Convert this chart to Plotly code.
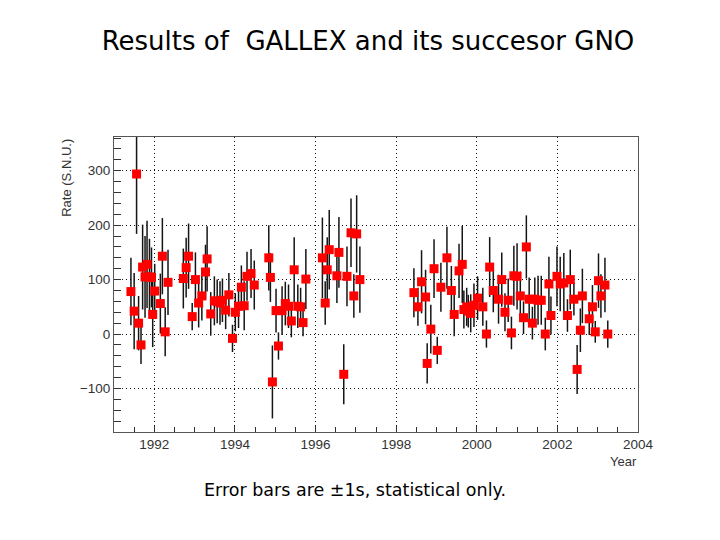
import plotly.graph_objects as go

# GALLEX (1991-1997) and GNO (1998-2003) run results, rate in SNU
year = [
    1991.42, 1991.50, 1991.56, 1991.61, 1991.67, 1991.71, 1991.77, 1991.82, 1991.88, 1991.93,
    1991.96, 1992.01, 1992.15, 1992.20, 1992.27, 1992.34, 1992.72, 1992.79, 1992.85, 1992.94,
    1993.02, 1993.10, 1993.18, 1993.27, 1993.31, 1993.40, 1993.49, 1993.56, 1993.63, 1993.69,
    1993.77, 1993.85, 1993.94, 1994.01, 1994.09, 1994.16, 1994.23, 1994.30, 1994.40, 1994.48,
    1994.84, 1994.88, 1994.93, 1995.02, 1995.08, 1995.17, 1995.25, 1995.33, 1995.40, 1995.47,
    1995.56, 1995.63, 1995.69, 1995.76, 1996.17, 1996.24, 1996.29, 1996.34, 1996.53, 1996.58,
    1996.70, 1996.78, 1996.88, 1996.95, 1997.02, 1997.10,
    1998.44, 1998.54, 1998.63, 1998.73, 1998.77, 1998.86, 1998.94, 1999.02, 1999.11, 1999.26,
    1999.37, 1999.44, 1999.56, 1999.64, 1999.68, 1999.75, 1999.79, 1999.85, 1999.93, 2000.02,
    2000.15, 2000.24, 2000.32, 2000.41, 2000.54, 2000.62, 2000.70, 2000.78, 2000.86, 2000.92,
    2001.00, 2001.08, 2001.16, 2001.23, 2001.30, 2001.38, 2001.44, 2001.52, 2001.60, 2001.70,
    2001.79, 2001.84, 2001.99, 2002.07, 2002.16, 2002.25, 2002.32, 2002.41, 2002.49, 2002.57,
    2002.62, 2002.79, 2002.87, 2002.94, 2003.02, 2003.08, 2003.18, 2003.25,
]
rate = [
    78, 42, 294, 20, -20, 123, 105, 128, 105, 104,
    36, 79, 56, 143, 4, 95, 102, 122, 143, 32,
    100, 57, 70, 114, 138, 37, 61, 60, 57, 62,
    44, 72, -8, 40, 51, 86, 52, 106, 111, 90,
    140, 104, -88, 43, -22, 43, 56, 51, 24, 118,
    51, 50, 21, 101, 140, 57, 118, 155, 107, 150,
    -74, 106, 186, 70, 184, 100,
    76, 50, 96, 68, -54, 9, 120, -30, 86, 140,
    80, 36, 116, 128, 45, 50, 42, 38, 53, 66,
    50, 0, 123, 80, 64, 100, 40, 62, 2, 107,
    106, 70, 30, 160, 64, 20, 64, 62, 62, 0,
    92, 34, 106, 92, 94, 34, 100, 64, -65, 7,
    70, 28, 50, 4, 98, 70, 90, 0,
]
err = [
    62, 70, 110, 50, 35, 78, 75, 80, 70, 55,
    60, 50, 55, 70, 45, 60, 55, 55, 60, 25,
    50, 45, 45, 50, 60, 40, 45, 40, 40, 40,
    35, 40, 25, 35, 40, 40, 45, 45, 45, 45,
    60, 45, 67, 40, 25, 45, 40, 40, 30, 60,
    40, 35, 25, 55, 74, 40, 60, 73, 50, 65,
    55, 55, 63, 40, 71, 61,
    45, 35, 58, 50, 37, 45, 54, 25, 45, 57,
    45, 40, 50, 71, 35, 35, 30, 35, 40, 40,
    35, 25, 55, 40, 45, 50, 35, 40, 30, 55,
    61, 45, 30, 58, 40, 30, 40, 45, 45, 30,
    50, 35, 55, 50, 55, 30, 55, 30, 45, 40,
    50, 30, 40, 20, 50, 40, 50, 25,
]

fig = go.Figure()
fig.add_trace(go.Scatter(
    x=year, y=rate, mode="markers",
    marker=dict(symbol="square", size=9, color="#ff0000", line=dict(width=0)),
    error_y=dict(type="data", array=err, visible=True, color="#151515",
                 thickness=1.5, width=0),
    showlegend=False,
))

axis_font = dict(family="Liberation Sans, Arial, sans-serif", size=13.5, color="#333333")
small_font = dict(family="Liberation Sans, Arial, sans-serif", size=13, color="#333333")
fig.update_layout(
    width=720, height=540,
    paper_bgcolor="white", plot_bgcolor="white",
    margin=dict(l=106, r=90, t=129, b=116),
    title=dict(text="Results of  GALLEX and its succesor GNO", x=0.5, xanchor="center",
               y=0.94, yanchor="middle",
               font=dict(family="DejaVu Sans, sans-serif", size=26, color="black")),
    xaxis=dict(range=[1991, 2004], dtick=2, tick0=1990, ticks="inside", ticklen=6,
               tickcolor="#333", showline=True, linecolor="#555", linewidth=1, mirror=True,
               showgrid=True, gridcolor="#111", griddash="1px,3px", gridwidth=1,
               zeroline=False, tickfont=axis_font,
               minor=dict(dtick=0.5, ticks="inside", ticklen=5, tickcolor="#333", showgrid=False)),
    yaxis=dict(range=[-180, 362], dtick=100, tick0=0, ticks="inside", ticklen=7,
               tickcolor="#333", showline=True, linecolor="#555", linewidth=1, mirror=True,
               showgrid=True, gridcolor="#111", griddash="1px,3px", gridwidth=1,
               zeroline=False, tickfont=axis_font,
               minor=dict(dtick=20, ticks="inside", ticklen=7, tickcolor="#333", showgrid=False)),
    annotations=[
        dict(text="Rate (S.N.U.)", xref="paper", yref="paper", x=-0.092, y=1.0,
             xanchor="center", yanchor="top", textangle=-90, showarrow=False,
             font=small_font),
        dict(text="Year", xref="paper", yref="paper", x=0.972, y=-0.1,
             xanchor="center", yanchor="middle", showarrow=False,
             font=small_font),
        dict(text="Error bars are ±1s, statistical only.", xref="paper", yref="paper",
             x=(355 - 114) / 524, y=-(490 - 432) / 295, xanchor="center", yanchor="middle",
             showarrow=False,
             font=dict(family="DejaVu Sans, sans-serif", size=17.5, color="black")),
    ],
)

fig.write_html("out.html")
